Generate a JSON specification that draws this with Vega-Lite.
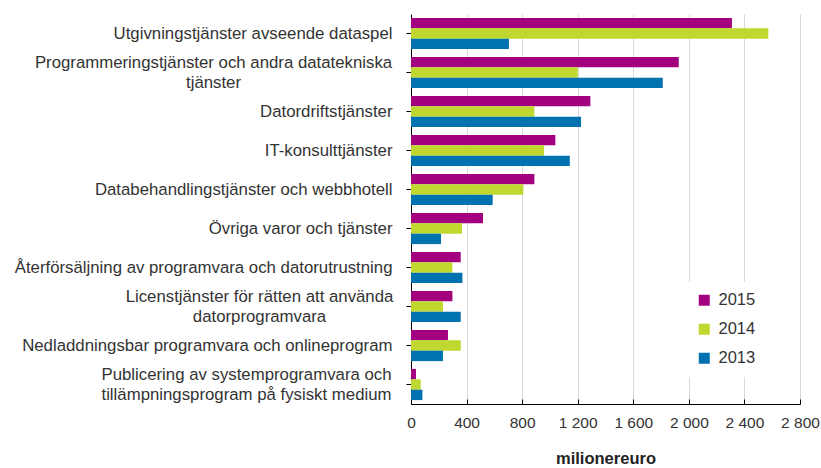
{
  "$schema": "https://vega.github.io/schema/vega-lite/v6.json",
  "width": 389,
  "height": 390,
  "autosize": "none",
  "padding": {"left": 411, "top": 14, "right": 21, "bottom": 64},
  "background": "white",
  "config": {
    "view": {"stroke": null},
    "font": "Liberation Sans",
    "axis": {"labelFont": "Liberation Sans", "labelColor": "#333333", "titleFont": "Liberation Sans"}
  },
  "data": {
    "values": [
      {"category": "Utgivningstjänster avseende dataspel", "year": "2015", "value": 2310},
      {"category": "Utgivningstjänster avseende dataspel", "year": "2014", "value": 2572},
      {"category": "Utgivningstjänster avseende dataspel", "year": "2013", "value": 705},
      {"category": "Programmeringstjänster och andra datatekniska|tjänster", "year": "2015", "value": 1927},
      {"category": "Programmeringstjänster och andra datatekniska|tjänster", "year": "2014", "value": 1200},
      {"category": "Programmeringstjänster och andra datatekniska|tjänster", "year": "2013", "value": 1812},
      {"category": "Datordriftstjänster", "year": "2015", "value": 1291},
      {"category": "Datordriftstjänster", "year": "2014", "value": 888},
      {"category": "Datordriftstjänster", "year": "2013", "value": 1224},
      {"category": "IT-konsulttjänster", "year": "2015", "value": 1039},
      {"category": "IT-konsulttjänster", "year": "2014", "value": 958},
      {"category": "IT-konsulttjänster", "year": "2013", "value": 1143},
      {"category": "Databehandlingstjänster och webbhotell", "year": "2015", "value": 888},
      {"category": "Databehandlingstjänster och webbhotell", "year": "2014", "value": 809},
      {"category": "Databehandlingstjänster och webbhotell", "year": "2013", "value": 588},
      {"category": "Övriga varor och tjänster", "year": "2015", "value": 518},
      {"category": "Övriga varor och tjänster", "year": "2014", "value": 367},
      {"category": "Övriga varor och tjänster", "year": "2013", "value": 216},
      {"category": "Återförsäljning av programvara och datorutrustning", "year": "2015", "value": 358},
      {"category": "Återförsäljning av programvara och datorutrustning", "year": "2014", "value": 298},
      {"category": "Återförsäljning av programvara och datorutrustning", "year": "2013", "value": 370},
      {"category": "Licenstjänster för rätten att använda|datorprogramvara", "year": "2015", "value": 298},
      {"category": "Licenstjänster för rätten att använda|datorprogramvara", "year": "2014", "value": 230},
      {"category": "Licenstjänster för rätten att använda|datorprogramvara", "year": "2013", "value": 358},
      {"category": "Nedladdningsbar programvara och onlineprogram", "year": "2015", "value": 266},
      {"category": "Nedladdningsbar programvara och onlineprogram", "year": "2014", "value": 358},
      {"category": "Nedladdningsbar programvara och onlineprogram", "year": "2013", "value": 230},
      {"category": "Publicering av systemprogramvara och|tillämpningsprogram på fysiskt medium", "year": "2015", "value": 36},
      {"category": "Publicering av systemprogramvara och|tillämpningsprogram på fysiskt medium", "year": "2014", "value": 70},
      {"category": "Publicering av systemprogramvara och|tillämpningsprogram på fysiskt medium", "year": "2013", "value": 82}
    ]
  },
  "mark": {"type": "bar"},
  "encoding": {
    "y": {
      "field": "category",
      "type": "nominal",
      "sort": null,
      "scale": {"paddingInner": 0.2, "paddingOuter": 0.1},
      "axis": {
        "title": null,
        "domainColor": "#000000",
        "domainWidth": 1,
        "tickColor": "#000000",
        "tickSize": 5,
        "labelFontSize": 16.8,
        "labelLimit": 500,
        "labelLineHeight": 20,
        "labelBaseline": "middle",
        "labelExpr": "split(datum.value, '|')",
        "labelAlign": {"condition": {"test": "indexof(datum.value, '|') >= 0", "value": "center"}, "value": "right"},
        "labelOffset": {"condition": {"test": "indexof(datum.value, '|') >= 0", "value": -10}, "value": 0},
        "labelPadding": {
          "condition": [
            {"test": "indexof(datum.value, 'Programmering') == 0", "value": 193},
            {"test": "indexof(datum.value, 'Licens') == 0", "value": 147},
            {"test": "indexof(datum.value, 'Publicering') == 0", "value": 160}
          ],
          "value": 14
        }
      }
    },
    "yOffset": {"field": "year", "type": "nominal", "sort": ["2015", "2014", "2013"], "scale": {"paddingInner": 0, "paddingOuter": 0}},
    "x": {
      "field": "value",
      "type": "quantitative",
      "scale": {"domain": [0, 2800], "nice": false},
      "axis": {
        "values": [0, 400, 800, 1200, 1600, 2000, 2400, 2800],
        "title": "milionereuro",
        "titleFontSize": 16.5,
        "titleFontWeight": "bold",
        "titleColor": "#222222",
        "titlePadding": 20,
        "labelFontSize": 15.5,
        "labelPadding": 16,
        "labelExpr": "replace(format(datum.value, ','), ',', ' ')",
        "labelFlush": false,
        "grid": true,
        "gridColor": "#d9d9d9",
        "gridWidth": 1,
        "domainColor": "#000000",
        "tickColor": "#000000",
        "tickSize": -5
      }
    },
    "color": {
      "field": "year",
      "type": "nominal",
      "scale": {"domain": ["2015", "2014", "2013"], "range": ["#a2007e", "#c0d72f", "#0072b0"]},
      "legend": {
        "title": null,
        "orient": "none",
        "legendX": 275,
        "legendY": 268,
        "fillColor": "white",
        "padding": 10,
        "symbolType": "square",
        "symbolSize": 121,
        "symbolStrokeWidth": 0,
        "labelFontSize": 16.5,
        "labelColor": "#333333",
        "labelFont": "Liberation Sans",
        "labelOffset": 6,
        "rowPadding": 12
      }
    }
  }
}
